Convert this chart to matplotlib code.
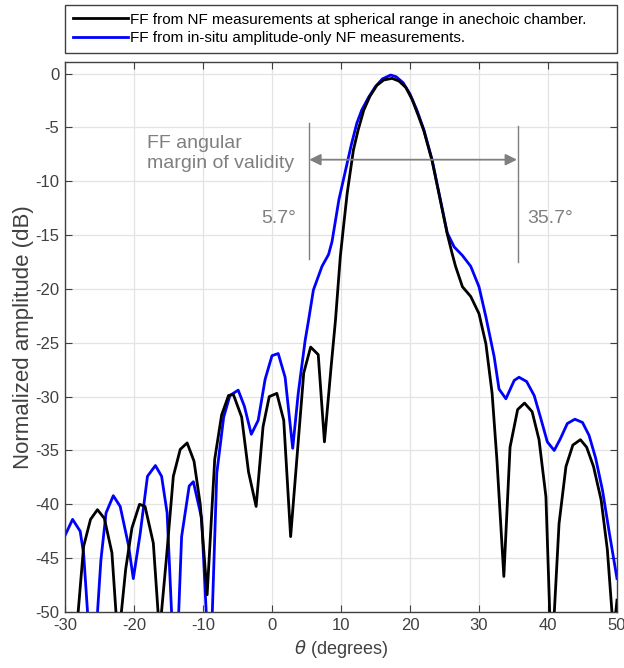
import matplotlib
matplotlib.use('Agg')

import matplotlib.pyplot as plt
from matplotlib.lines import Line2D

plt.rcParams['font.family'] = ['Liberation Sans', 'DejaVu Sans']
plt.rcParams['axes.unicode_minus'] = False

# Far field from NF measurements in anechoic chamber (black)
theta_ref = [-29.0, -27.3, -26.3, -25.3, -24.3, -23.2, -22.3, -21.2, -20.3, -19.2,
             -18.4, -17.2, -16.3, -15.3, -14.8, -14.3, -13.3, -12.3, -11.3, -10.4,
             -9.4, -8.3, -7.3, -6.3, -5.6, -4.4, -3.4, -2.3, -1.3, -0.4,
             0.7, 1.7, 2.7, 4.6, 5.6, 6.7, 7.6, 8.6, 9.2, 9.9,
             10.4, 10.9, 11.8, 12.5, 13.3, 14.2, 15.2, 16.2, 17.4, 18.4,
             19.4, 20.3, 21.2, 22.0, 23.2, 24.4,
             25.4, 26.1, 26.6, 27.6, 28.8, 30.0, 31.0, 31.9, 32.6, 33.6,
             34.5, 35.6, 36.6, 37.7, 38.7, 39.7, 40.5, 41.6, 42.6, 43.6,
             44.7, 45.6, 46.6, 47.7, 48.6, 49.5, 50.0]
amp_ref = [-57.0, -43.9, -41.4, -40.5, -41.3, -44.5, -53.0, -46.0, -42.2, -40.0,
           -40.2, -43.6, -52.0, -45.0, -41.2, -37.4, -34.9, -34.3, -36.0, -40.0,
           -48.4, -35.8, -31.7, -29.9, -29.8, -31.9, -37.0, -40.2, -32.8, -30.0,
           -29.7, -32.2, -43.0, -27.8, -25.4, -26.1, -34.2, -27.0, -22.9, -17.0,
           -14.0, -11.1, -7.1, -5.2, -3.4, -2.1, -1.1, -0.6, -0.45, -0.7,
           -1.3, -2.4, -3.9, -5.3, -8.1, -11.8,
           -14.9, -16.7, -17.9, -19.8, -20.7, -22.3, -25.1, -29.7, -35.9, -46.7,
           -34.7, -31.2, -30.6, -31.4, -34.0, -39.3, -55.0, -41.8, -36.5, -34.5,
           -34.0, -34.7, -36.5, -39.6, -44.2, -52.0, -48.9]

# Far field from in-situ amplitude-only NF measurements (blue)
theta_insitu = [-30.0, -28.9, -27.8, -27.3, -26.0, -24.8, -24.05, -23.0, -22.0, -20.8,
                -20.1, -19.1, -18.05, -16.9, -16.0, -15.2, -14.0, -13.1, -12.0, -11.4,
                -10.2, -9.0, -8.0, -7.0, -6.1, -4.9, -4.0, -3.0, -2.0, -1.0,
                0.0, 0.9, 1.9, 3.0, 3.8, 4.8, 5.3, 6.0, 7.25, 8.2,
                8.7, 9.7, 10.9, 11.5, 12.3, 13.0, 14.0, 15.0, 16.0, 17.2,
                18.0, 19.0, 20.0, 21.0, 22.0, 23.2,
                24.4, 25.4, 26.4, 27.6, 28.8, 30.0, 31.0, 32.2, 32.9, 33.9,
                35.1, 35.8, 36.9, 38.0, 38.9, 39.9, 40.9, 41.8, 42.8, 43.9,
                45.0, 45.95, 46.9, 47.9, 48.9, 50.0]
amp_insitu = [-42.9, -41.4, -42.5, -44.6, -57.0, -45.2, -40.8, -39.2, -40.2, -43.8,
              -46.9, -42.7, -37.4, -36.4, -37.4, -40.8, -58.0, -43.0, -38.3, -37.9,
              -41.3, -57.0, -37.1, -31.9, -29.9, -29.4, -30.9, -33.5, -32.2, -28.4,
              -26.2, -26.0, -28.2, -34.8, -29.7, -24.8, -22.9, -20.1, -17.9, -16.8,
              -15.6, -11.7, -8.3, -6.6, -4.6, -3.4, -2.2, -1.2, -0.5, -0.14,
              -0.3, -0.85, -1.9, -3.4, -5.2, -8.0,
              -11.7, -14.8, -16.1, -16.9, -17.9, -19.8, -22.6, -26.3, -29.3, -30.2,
              -28.5, -28.2, -28.6, -29.9, -31.9, -34.2, -35.0, -33.9, -32.5, -32.1,
              -32.4, -33.6, -35.7, -38.7, -42.7, -46.9]

labels = ['FF from NF measurements at spherical range in anechoic chamber.',
          'FF from in-situ amplitude-only NF measurements.']

W, H = 624, 668
fig = plt.figure(figsize=(W / 100, H / 100), dpi=100)
ax = fig.add_axes([65 / W, 1 - 612 / H, 552 / W, 550 / H])

axis_col = '#404040'
gray = '#7f7f7f'

ax.plot(theta_insitu, amp_insitu, color='#0000ff', lw=2.0, zorder=2)
ax.plot(theta_ref, amp_ref, color='black', lw=2.0, zorder=3)
ax.set_xlim(-30, 50)
ax.set_ylim(-50, 1.07)
ax.set_xticks(range(-30, 51, 10))
ax.set_yticks(range(-50, 1, 5))
ax.grid(True, color='#e3e3e3', lw=0.9)
ax.set_axisbelow(True)
ax.tick_params(direction='in', length=5, top=True, right=True,
               colors=axis_col, labelsize=12, pad=4)
for s in ax.spines.values():
    s.set_color(axis_col)
    s.set_linewidth(1.0)

ax.set_xlabel(r'$\theta$ (degrees)', fontsize=13, color=axis_col, labelpad=4)
ax.set_ylabel('Normalized amplitude (dB)', fontsize=16, color=axis_col, labelpad=1)

# angular margin of validity annotation
ax.annotate('', xy=(5.4, -8.0), xytext=(35.5, -8.0),
            arrowprops=dict(arrowstyle='<|-|>', color=gray, lw=1.3,
                            mutation_scale=17, shrinkA=0, shrinkB=0))
ax.plot([5.4, 5.4], [-4.6, -17.2], color=gray, lw=1.0)
ax.plot([35.6, 35.6], [-4.9, -17.5], color=gray, lw=1.0)
ax.text(-18.1, -5.75, 'FF angular\nmargin of validity', color=gray, fontsize=14,
        ha='left', va='top', linespacing=1.2)
ax.text(3.5, -13.9, '5.7\u00b0', color=gray, fontsize=14, ha='right', va='baseline')
ax.text(37.0, -13.9, '35.7\u00b0', color=gray, fontsize=14, ha='left', va='baseline')

handles = [Line2D([], [], color='black', lw=2.0),
           Line2D([], [], color='#0000ff', lw=2.0)]
leg = fig.legend(handles, labels, loc='lower left',
                 bbox_to_anchor=(65 / W, 1 - 53 / H, 552 / W, 49 / H),
                 mode='expand', ncol=1, fontsize=11, frameon=True,
                 fancybox=False, framealpha=1, edgecolor=axis_col,
                 handlelength=3.6, handletextpad=0.15, borderaxespad=0,
                 borderpad=0.5, labelspacing=0.3)
leg.get_frame().set_linewidth(1.0)

fig.savefig('out.png', dpi=100)
